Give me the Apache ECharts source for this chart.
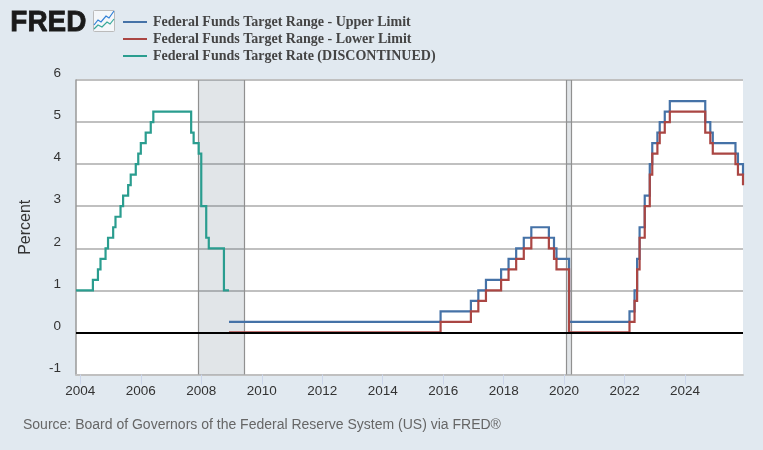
<!DOCTYPE html>
<html><head><meta charset="utf-8">
<script src="https://cdn.jsdelivr.net/npm/echarts@6/dist/echarts.min.js"></script>
<style>html,body{margin:0;padding:0;background:#e1e9f0}#c{width:763px;height:450px}</style>
</head><body><div id="c"></div>
<script>
const rateDates = ['2003-11-10','2004-06-01','2004-08-01','2004-09-01','2004-11-01','2004-12-01','2005-02-01','2005-03-01','2005-05-01','2005-06-01','2005-08-01','2005-09-01','2005-11-01','2005-12-01','2006-01-01','2006-03-01','2006-05-01','2006-06-01','2007-09-01','2007-10-01','2007-12-01','2008-01-01','2008-03-01','2008-04-01','2008-10-01','2008-12-01'];
const rateValues = [1,1.25,1.5,1.75,2,2.25,2.5,2.75,3,3.25,3.5,3.75,4,4.25,4.5,4.75,5,5.25,4.75,4.5,4.25,3,2.25,2,1,1];
const rangeDates = ['2008-12-01','2015-12-01','2016-12-01','2017-03-01','2017-06-01','2017-12-01','2018-03-01','2018-06-01','2018-09-01','2018-12-01','2019-07-01','2019-09-01','2019-10-01','2020-03-01','2022-03-01','2022-05-01','2022-06-01','2022-07-01','2022-09-01','2022-11-01','2022-12-01','2023-02-01','2023-03-01','2023-05-01','2023-07-01','2024-09-01','2024-11-01','2024-12-01','2025-09-01','2025-10-01','2025-12-01'];
const upperValues = [0.25,0.5,0.75,1,1.25,1.5,1.75,2,2.25,2.5,2.25,2,1.75,0.25,0.5,1,1.75,2.5,3.25,4,4.5,4.75,5,5.25,5.5,5,4.75,4.5,4.25,4,3.75];
const lowerValues = [0,0.25,0.5,0.75,1,1.25,1.5,1.75,2,2.25,2,1.75,1.5,0,0.25,0.75,1.5,2.25,3,3.75,4.25,4.5,4.75,5,5.25,4.75,4.5,4.25,4,3.75,3.5];
const recessions = [['2007-12-01','2009-06-01'],['2020-02-01','2020-04-01']];
const xTickYears = ['2004','2006','2008','2010','2012','2014','2016','2018','2020','2022','2024'];
const yTicks = [-1,0,1,2,3,4,5,6];
const names = ['Federal Funds Target Range - Upper Limit','Federal Funds Target Range - Lower Limit','Federal Funds Target Rate (DISCONTINUED)'];
const colors = ['#4572a7','#aa4643','#2a9d8f'];
const sourceText = 'Source: Board of Governors of the Federal Reserve System (US) via FRED®';

const xTickTimes = xTickYears.map(y => +new Date(y + '-01-01T00:00:00Z'));
const ts = d => +new Date(d + 'T00:00:00Z');
const zip = (ds, vs) => ds.map((d, i) => [ts(d), vs[i]]);
const FONT = '"Liberation Sans", Arial, sans-serif';

const lineSeries = (i, ds, vs) => ({
  name: names[i], type: 'line', step: 'end', data: zip(ds, vs), symbol: 'none', z: 3,
  lineStyle: { color: colors[i], width: 2.2, join: 'miter', cap: 'butt' },
  itemStyle: { color: colors[i] }
});

const chart = echarts.init(document.getElementById('c'), null, { renderer: 'canvas' });
chart.setOption({
  animation: false,
  backgroundColor: '#e1e9f0',
  textStyle: { fontFamily: FONT },
  grid: { left: 76, top: 80, width: 667, height: 294.5, backgroundColor: '#fff', show: true, borderWidth: 0 },
  legend: {
    left: 123, top: 15, orient: 'vertical', itemWidth: 24, itemHeight: 2, itemGap: 3, icon: 'rect',
    selectedMode: false, data: names, padding: 0,
    textStyle: { fontFamily: '"Liberation Serif", serif', fontWeight: 'bold', fontSize: 14, color: '#444', padding: [0, 0, 0, 1], lineHeight: 14 }
  },
  xAxis: {
    type: 'value', min: ts('2003-11-10'), max: ts('2025-12-01'),
    axisLine: { show: true, onZero: false, lineStyle: { color: '#c0c0c0', width: 2 } },
    axisTick: { show: true, length: 10, customValues: xTickTimes, lineStyle: { color: '#ccd6eb', width: 1 } },
    axisLabel: { customValues: xTickTimes, formatter: v => String(new Date(v).getUTCFullYear()), color: '#333', fontSize: 13.5, margin: 10, hideOverlap: false },
    splitLine: { show: false }
  },
  yAxis: {
    type: 'value', min: -1, max: 6, interval: 1,
    name: 'Percent', nameLocation: 'middle', nameGap: 42, nameRotate: 90,
    nameTextStyle: { color: '#333', fontSize: 16, fontFamily: FONT },
    axisLine: { show: true, onZero: false, lineStyle: { color: '#999', width: 1.5 } },
    axisTick: { show: false },
    axisLabel: { color: '#333', fontSize: 13.5, lineHeight: 13, margin: 15, verticalAlign: 'bottom', formatter: v => yTicks.includes(v) ? String(v) : '' },
    splitLine: { show: true, lineStyle: { color: '#c0c0c0', width: 2 } }
  },
  series: [
    {
      type: 'line', data: [], z: 1, silent: true,
      markArea: {
        silent: true, z: 1,
        itemStyle: { color: 'rgba(70,95,115,0.16)' },
        data: recessions.map(r => [{ xAxis: ts(r[0]) }, { xAxis: ts(r[1]) }])
      },
      markLine: {
        silent: true, symbol: 'none', z: 2, label: { show: false },
        lineStyle: { color: '#909090', width: 1.2, type: 'solid' },
        data: recessions.flat().map(d => ({ xAxis: ts(d) }))
      }
    },
    lineSeries(0, rangeDates, upperValues),
    lineSeries(1, rangeDates, lowerValues),
    lineSeries(2, rateDates, rateValues),
    {
      type: 'line', data: [], z: 6, silent: true,
      markLine: {
        silent: true, symbol: 'none', z: 6, label: { show: false },
        lineStyle: { color: '#000', width: 2, type: 'solid' },
        data: [{ yAxis: 0 }]
      }
    }
  ],
  graphic: [
    { type: 'text', left: 10, top: 7, scaleX: 0.93, style: { text: 'FRED', fontFamily: FONT, fontWeight: 'bold', fontSize: 30, fill: '#1a1a1a', stroke: '#1a1a1a', lineWidth: 0.8 } },
    { type: 'rect', shape: { x: 93.5, y: 10.5, width: 21, height: 21, r: 1 }, style: { fill: '#f4f7fa', stroke: '#bbb', lineWidth: 1 } },
    { type: 'polyline', shape: { points: [[94, 25], [98, 20], [101, 22], [106, 16], [109, 18], [114, 11]] }, style: { fill: 'none', stroke: '#2f7fd6', lineWidth: 1.2 } },
    { type: 'polyline', shape: { points: [[94, 29], [98, 25], [102, 27], [107, 22], [110, 24], [114, 19]] }, style: { fill: 'none', stroke: '#38a89a', lineWidth: 1.2 } },
    { type: 'text', left: 23, top: 418, style: { text: sourceText, fontFamily: FONT, fontSize: 14, fill: '#666' } }
  ]
});
</script></body></html>
